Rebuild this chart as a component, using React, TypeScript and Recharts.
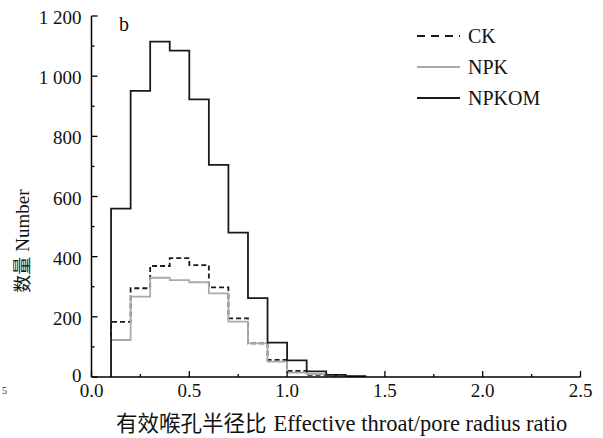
/**
 * PoreRatioChart
 * Step histogram of effective throat/pore radius ratio for three treatments
 */

import React from 'react';
import { LineChart, Line, XAxis, YAxis, Label } from 'recharts';

// bin starts (width 0.1), last bin closes at BIN_END
const binStarts = [0.1, 0.2, 0.3, 0.4, 0.5, 0.6, 0.7, 0.8, 0.9, 1.0, 1.1, 1.2, 1.3];
const BIN_END = 1.4;

const ckCounts = [183, 295, 369, 395, 372, 298, 195, 112, 57, 20, 7, 2, 0];
const npkCounts = [123, 267, 330, 322, 315, 278, 184, 112, 51, 15, 10, 4, 2];
const npkomCounts = [560, 951, 1115, 1085, 923, 705, 480, 262, 114, 55, 19, 7, 3];

const xTicks = [0, 0.25, 0.5, 0.75, 1.0, 1.25, 1.5, 1.75, 2.0, 2.25, 2.5];
const yTicks = [0, 100, 200, 300, 400, 500, 600, 700, 800, 900, 1000, 1100, 1200];

const series = [
  { key: 'ck', name: 'CK', color: '#1a1a1a', dash: '5 3', legendDash: '8 6' },
  { key: 'npk', name: 'NPK', color: '#aaaaaa', dash: undefined, legendDash: undefined },
  { key: 'npkom', name: 'NPKOM', color: '#1a1a1a', dash: undefined, legendDash: undefined },
];

// closed step outline: start and end on the baseline
const chartData = [
  { x: binStarts[0], ck: 0, npk: 0, npkom: 0 },
  ...binStarts.map((x, i) => ({ x, ck: ckCounts[i], npk: npkCounts[i], npkom: npkomCounts[i] })),
  { x: BIN_END, ck: 0, npk: 0, npkom: 0 },
];

const SERIF = '"Liberation Serif", "Times New Roman", serif';
const CJK = '"Noto Sans CJK SC", sans-serif';

function formatCount(v: number): string {
  if (v >= 1000) return `${Math.floor(v / 1000)} ${String(v % 1000).padStart(3, '0')}`;
  return String(v);
}

function XTick(props: any) {
  const { x, y, payload } = props;
  const v = payload.value as number;
  const major = Math.abs(v * 2 - Math.round(v * 2)) < 1e-6;
  return (
    <g>
      <line x1={x} x2={x} y1={y} y2={y - (major ? 6 : 3)} stroke="#000" strokeWidth={1.3} />
      {major && (
        <text x={x} y={y + 20} textAnchor="middle" style={{ fontFamily: SERIF }} fontSize={19} fill="#111">
          {v.toFixed(1)}
        </text>
      )}
    </g>
  );
}

function YTick(props: any) {
  const { x, y, payload } = props;
  const v = payload.value as number;
  const major = v % 200 === 0;
  // the zero label sits a touch higher so it clears the x-axis "0.0"
  const dy = v === 0 ? 5 : 8;
  return (
    <g>
      <line x1={x} x2={x + (major ? 6 : 3)} y1={y} y2={y} stroke="#000" strokeWidth={1.3} />
      {major && (
        <text x={x - 10} y={y + dy} textAnchor="end" style={{ fontFamily: SERIF }} fontSize={19} fill="#111">
          {formatCount(v)}
        </text>
      )}
    </g>
  );
}

function XTitle() {
  return (
    <text x={116} y={431} fill="#111">
      <tspan style={{ fontFamily: CJK }} fontSize={21.5}>有效喉孔半径比</tspan>
      <tspan style={{ fontFamily: SERIF }} fontSize={22.5} dx={7}>Effective throat/pore radius ratio</tspan>
    </text>
  );
}

function YTitle() {
  return (
    <text transform="translate(29,241) rotate(-90)" textAnchor="middle" fill="#111">
      <tspan style={{ fontFamily: CJK }} fontSize={18}>数量</tspan>
      <tspan style={{ fontFamily: SERIF }} fontSize={19} dx={5}>Number</tspan>
    </text>
  );
}

function LegendBox() {
  return (
    <div
      style={{
        position: 'absolute',
        left: 416,
        top: 20,
        width: 170,
        fontFamily: SERIF,
        fontSize: 20,
        color: '#111',
      }}
    >
      {series.map((s) => (
        <div key={s.key} style={{ display: 'flex', alignItems: 'center', height: 31 }}>
          <svg width={46} height={10} style={{ display: 'block' }}>
            <line x1={1} x2={44} y1={5} y2={5} stroke={s.color} strokeWidth={1.8} strokeDasharray={s.legendDash} />
          </svg>
          <span style={{ marginLeft: 6, lineHeight: '20px' }}>{s.name}</span>
        </div>
      ))}
    </div>
  );
}

export default function App() {
  return (
    <div style={{ position: 'absolute', left: 0, top: 0, width: 603, height: 438, background: '#fff' }}>
      <LineChart
        width={603}
        height={438}
        data={chartData}
        margin={{ top: 16, right: 22.5, bottom: 31, left: 31.5 }}
      >
        <XAxis
          dataKey="x"
          type="number"
          domain={[0, 2.5]}
          ticks={xTicks}
          interval={0}
          height={30}
          tickSize={0}
          tickMargin={0}
          tickLine={false}
          tick={<XTick />}
          axisLine={{ stroke: '#000', strokeWidth: 1.5 }}
          allowDataOverflow
        >
          <Label content={<XTitle />} />
        </XAxis>
        <YAxis
          type="number"
          domain={[0, 1200]}
          ticks={yTicks}
          interval={0}
          width={60}
          tickSize={0}
          tickMargin={0}
          tickLine={false}
          tick={<YTick />}
          axisLine={{ stroke: '#000', strokeWidth: 1.5 }}
          allowDataOverflow
        >
          <Label content={<YTitle />} />
        </YAxis>
        {series.map((s) => (
          <Line
            key={s.key}
            dataKey={s.key}
            name={s.name}
            type="stepAfter"
            stroke={s.color}
            strokeWidth={1.8}
            strokeDasharray={s.dash}
            dot={false}
            activeDot={false}
            isAnimationActive={false}
          />
        ))}
      </LineChart>
      <LegendBox />
      <div style={{ position: 'absolute', left: 119, top: 14, fontFamily: SERIF, fontSize: 20, lineHeight: '20px', color: '#111' }}>
        b
      </div>
      <div style={{ position: 'absolute', left: 2, top: 386, fontFamily: SERIF, fontSize: 10, lineHeight: '10px', color: '#333' }}>
        5
      </div>
    </div>
  );
}
